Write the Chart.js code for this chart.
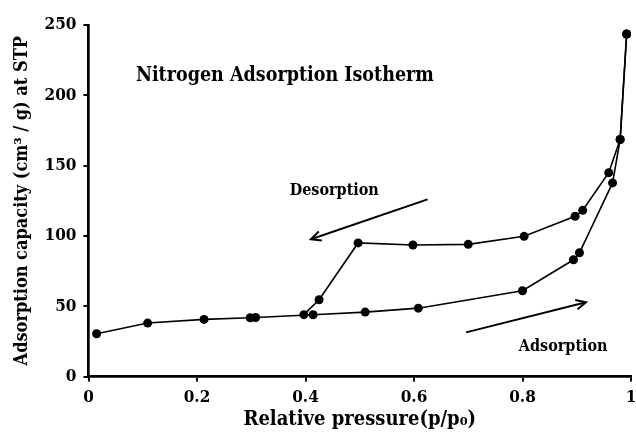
<!DOCTYPE html>
<html>
<head>
<meta charset="utf-8">
<script src="https://cdn.jsdelivr.net/npm/chart.js@4"></script>
<style>
html,body{margin:0;padding:0;background:#fff;}
#wrap{width:636px;height:436px;}
</style>
</head>
<body>
<div id="wrap"><canvas id="c" width="636" height="436"></canvas></div>
<script>
const adsX = [0.015,0.109,0.213,0.298,0.308,0.414,0.51,0.608,0.80,0.894,0.905,0.966,0.98,0.992];
const adsY = [30.4,38,40.6,41.8,42,43.9,45.8,48.6,61,83,88,137.7,168.6,243.6];
const desX = [0.992,0.98,0.959,0.911,0.897,0.803,0.70,0.598,0.497,0.425,0.397];
const desY = [243.6,168.6,145,118.2,114,99.7,94,93.5,95,54.6,44];
const xTicks = [0,0.2,0.4,0.6,0.8,1];
const yTicks = [0,50,100,150,200,250];
const titleText = 'Nitrogen Adsorption Isotherm';
const desLabel = 'Desorption';
const adsLabel = 'Adsorption';
const xTitle = 'Relative pressure(p/p\u2080)';
const yTitle = 'Adsorption capacity (cm\u00b3 / g) at STP';

const FONT = "'DejaVu Serif Condensed', 'Liberation Serif', serif";

const toPts = (xs, ys) => xs.map((x, i) => ({x: x, y: ys[i]}));

const notes = {
  id: 'notes',
  afterDatasetsDraw(chart) {
    const ctx = chart.ctx, xs = chart.scales.x, ys = chart.scales.y;
    const P = (x, y) => [xs.getPixelForValue(x), ys.getPixelForValue(y)];
    ctx.save();
    ctx.fillStyle = '#000';
    ctx.textAlign = 'center';
    ctx.textBaseline = 'middle';
    ctx.font = "bold 19.5px " + FONT;
    let p = P(0.362, 214); ctx.fillText(titleText, p[0], p[1]);
    ctx.font = "bold 16px " + FONT;
    p = P(0.453, 132); ctx.fillText(desLabel, p[0], p[1]);
    p = P(0.875, 21); ctx.fillText(adsLabel, p[0], p[1]);
    const arrow = (x1, y1, x2, y2) => {
      const a = P(x1, y1), b = P(x2, y2);
      ctx.strokeStyle = '#000';
      ctx.lineWidth = 2;
      ctx.beginPath(); ctx.moveTo(a[0], a[1]); ctx.lineTo(b[0], b[1]); ctx.stroke();
      const ang = Math.atan2(b[1] - a[1], b[0] - a[0]);
      const L = 11, W = 0.45;
      ctx.beginPath();
      ctx.moveTo(b[0] - L * Math.cos(ang - W), b[1] - L * Math.sin(ang - W));
      ctx.lineTo(b[0], b[1]);
      ctx.lineTo(b[0] - L * Math.cos(ang + W), b[1] - L * Math.sin(ang + W));
      ctx.stroke();
    };
    arrow(0.625, 126, 0.41, 97.6);
    arrow(0.696, 31.4, 0.917, 52.8);
    ctx.restore();
  }
};

const common = {
  showLine: true,
  borderColor: '#000',
  backgroundColor: '#000',
  borderWidth: 1.6,
  pointRadius: 4.5,
  pointHoverRadius: 4.5,
  pointBorderWidth: 0,
  tension: 0
};

new Chart(document.getElementById('c'), {
  type: 'scatter',
  data: {
    datasets: [
      Object.assign({label: adsLabel, data: toPts(adsX, adsY)}, common),
      Object.assign({label: desLabel, data: toPts(desX, desY)}, common)
    ]
  },
  options: {
    responsive: false,
    animation: false,
    devicePixelRatio: 1,
    layout: {padding: {top: 25, right: 5, left: 8, bottom: 0}},
    plugins: {legend: {display: false}, tooltip: {enabled: false}},
    scales: {
      x: {
        type: 'linear', min: 0, max: 1,
        afterBuildTicks(s) { s.ticks = xTicks.map(v => ({value: v})); },
        afterFit(s) { s.height = 59.5; s.paddingLeft = 0; s.paddingRight = 0; },
        grid: {drawOnChartArea: false, drawTicks: true, tickLength: 5, color: '#000', lineWidth: 2},
        border: {color: '#000', width: 2.7},
        ticks: {color: '#000', font: {family: FONT, size: 17, weight: 'bold'}, padding: 6,
                maxRotation: 0, autoSkip: false, callback: v => String(v)},
        title: {display: true, text: xTitle, color: '#000', font: {family: FONT, size: 20, weight: 'bold'}, padding: {top: 1}}
      },
      y: {
        type: 'linear', min: 0, max: 250,
        afterBuildTicks(s) { s.ticks = yTicks.map(v => ({value: v})); },
        afterFit(s) { s.width = 80.5; s.paddingTop = 0; s.paddingBottom = 0; },
        grid: {drawOnChartArea: false, drawTicks: true, tickLength: 5, color: '#000', lineWidth: 2},
        border: {color: '#000', width: 2.7},
        ticks: {color: '#000', font: {family: FONT, size: 17, weight: 'bold'}, padding: 7, autoSkip: false},
        title: {display: true, text: yTitle, color: '#000', font: {family: FONT, size: 18, weight: 'bold'}, padding: {bottom: 4}}
      }
    }
  },
  plugins: [notes]
});
</script>
</body>
</html>
